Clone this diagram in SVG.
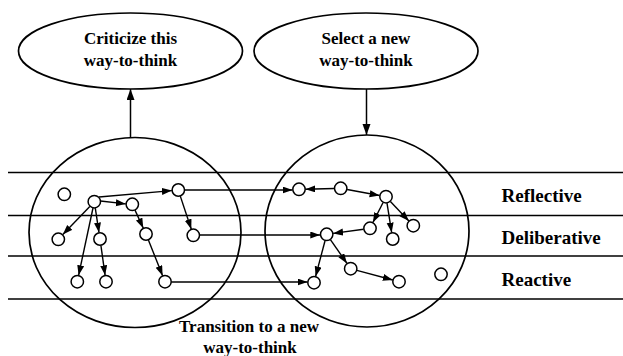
<svg xmlns="http://www.w3.org/2000/svg" width="623" height="356" viewBox="0 0 623 356">
  <style>
    .lane { stroke: #000; stroke-width: 1.6; fill: none; }
    .shape { stroke: #000; stroke-width: 1.7; fill: none; }
    .node { stroke: #000; stroke-width: 1.5; fill: #fff; }
    .edge { stroke: #000; stroke-width: 1.4; fill: none; marker-end: url(#arrow); }
    .link { stroke: #000; stroke-width: 1.5; fill: none; marker-end: url(#arrowBig); }
    text { font-weight: bold; fill: #000; }
    .t17 { font-size: 17px; text-anchor: middle; }
    .t19 { font-size: 19px; }
  </style>
  <defs>
    <marker id="arrow" markerUnits="userSpaceOnUse" markerWidth="10" markerHeight="8" refX="10" refY="3.5" orient="auto">
      <path d="M0,0 L10,3.5 L0,7 z" fill="#000"/>
    </marker>
    <marker id="arrowBig" markerUnits="userSpaceOnUse" markerWidth="11" markerHeight="9" refX="11" refY="4" orient="auto">
      <path d="M0,0 L11,4 L0,8 z" fill="#000"/>
    </marker>
  </defs>

  <rect width="623" height="356" fill="#fff"/>

  <!-- layer boundaries -->
  <g id="layers">
    <line class="lane" x1="8" y1="172.5" x2="623" y2="172.5"/>
    <line class="lane" x1="8" y1="215.5" x2="623" y2="215.5"/>
    <line class="lane" x1="8" y1="256" x2="623" y2="256"/>
    <line class="lane" x1="8" y1="299" x2="623" y2="299"/>
  </g>

  <!-- layer names -->
  <g id="layer-labels" class="t19" font-family="'Liberation Serif', 'DejaVu Serif', serif">
    <text x="501.5" y="202">Reflective</text>
    <text x="501.5" y="243.5">Deliberative</text>
    <text x="501.5" y="286">Reactive</text>
  </g>

  <!-- current and next way-to-think -->
  <g id="current-way">
    <ellipse class="shape" cx="135" cy="232.5" rx="106" ry="95"/>
  </g>
  <g id="next-way">
    <ellipse class="shape" cx="367" cy="231" rx="102" ry="96"/>
  </g>

  <!-- control ellipses -->
  <g id="criticize" font-family="'Liberation Serif', 'DejaVu Serif', serif">
    <ellipse class="shape" cx="130.5" cy="51" rx="112" ry="38"/>
    <text class="t17" x="130.5" y="44">Criticize this</text>
    <text class="t17" x="130.5" y="66">way-to-think</text>
  </g>
  <g id="select" font-family="'Liberation Serif', 'DejaVu Serif', serif">
    <ellipse class="shape" cx="366" cy="51" rx="112" ry="38"/>
    <text class="t17" x="366" y="44">Select a new</text>
    <text class="t17" x="366" y="66">way-to-think</text>
  </g>

  <g id="transition-label" font-family="'Liberation Serif', 'DejaVu Serif', serif">
    <text class="t17" x="249" y="331.5">Transition to a new</text>
    <text class="t17" x="250" y="353">way-to-think</text>
  </g>

  <!-- connectors -->
  <g id="connectors">
    <line class="link" x1="130.5" y1="138" x2="130.5" y2="89"/>
    <line class="link" x1="366.5" y1="89" x2="366.5" y2="135"/>

    <!-- left cluster -->
    <line class="edge" x1="99" y1="197" x2="171.9" y2="190.6"/>
    <line class="edge" x1="100.5" y1="201" x2="125.8" y2="203.9"/>
    <line class="edge" x1="89.8" y1="206.4" x2="62.8" y2="234.6"/>
    <line class="edge" x1="95.3" y1="208.1" x2="99" y2="232.6"/>
    <line class="edge" x1="93" y1="208" x2="78.6" y2="275.3"/>
    <line class="edge" x1="100.9" y1="245.4" x2="105.1" y2="275.3"/>
    <line class="edge" x1="135" y1="210.1" x2="143.3" y2="228.2"/>
    <line class="edge" x1="148.4" y1="240" x2="162.6" y2="275.7"/>
    <line class="edge" x1="180.3" y1="196.1" x2="191.3" y2="229.2"/>

    <!-- cross-over links -->
    <line class="edge" x1="184.5" y1="190" x2="292.6" y2="190"/>
    <line class="edge" x1="199.5" y1="235" x2="320.3" y2="235"/>
    <line class="edge" x1="171.2" y1="282" x2="307.6" y2="282"/>

    <!-- right cluster -->
    <line class="edge" x1="334.3" y1="188.5" x2="305.4" y2="189.2"/>
    <line class="edge" x1="347.1" y1="189.5" x2="379.6" y2="195.5"/>
    <line class="edge" x1="383.1" y1="202.5" x2="372.9" y2="222.5"/>
    <line class="edge" x1="387" y1="203.1" x2="391.7" y2="232.6"/>
    <line class="edge" x1="390.4" y1="201.4" x2="408.9" y2="221"/>
    <line class="edge" x1="363.6" y1="229.2" x2="333.1" y2="233.4"/>
    <line class="edge" x1="325.1" y1="240.5" x2="315.6" y2="276.4"/>
    <line class="edge" x1="330.4" y1="239.6" x2="347" y2="263.4"/>
    <line class="edge" x1="356.9" y1="270.4" x2="392.8" y2="280"/>
  </g>

  <!-- nodes of the current way-to-think -->
  <g id="n-left-iso"><circle class="node" cx="64.3" cy="194.3" r="6.2"/></g>
  <g id="n-left-hub"><circle class="node" cx="94.3" cy="201.7" r="6.2"/></g>
  <g id="n-left-r2"><circle class="node" cx="132.3" cy="204.3" r="6.2"/></g>
  <g id="n-left-r3"><circle class="node" cx="178.3" cy="190" r="6.2"/></g>
  <g id="n-left-d1"><circle class="node" cx="58.3" cy="239.3" r="6.2"/></g>
  <g id="n-left-d2"><circle class="node" cx="100" cy="239" r="6.2"/></g>
  <g id="n-left-d3"><circle class="node" cx="146" cy="234" r="6.2"/></g>
  <g id="n-left-d4"><circle class="node" cx="193.3" cy="235.3" r="6.2"/></g>
  <g id="n-left-a1"><circle class="node" cx="77.3" cy="281.7" r="6.2"/></g>
  <g id="n-left-a2"><circle class="node" cx="106" cy="281.7" r="6.2"/></g>
  <g id="n-left-a3"><circle class="node" cx="165" cy="281.7" r="6.2"/></g>

  <!-- nodes of the next way-to-think -->
  <g id="n-right-r1"><circle class="node" cx="299" cy="189.3" r="6.2"/></g>
  <g id="n-right-r2"><circle class="node" cx="340.7" cy="188.3" r="6.2"/></g>
  <g id="n-right-r3"><circle class="node" cx="386" cy="196.7" r="6.2"/></g>
  <g id="n-right-d1"><circle class="node" cx="326.7" cy="234.3" r="6.2"/></g>
  <g id="n-right-d2"><circle class="node" cx="370" cy="228.3" r="6.2"/></g>
  <g id="n-right-d3"><circle class="node" cx="392.7" cy="239" r="6.2"/></g>
  <g id="n-right-d4"><circle class="node" cx="413.3" cy="225.7" r="6.2"/></g>
  <g id="n-right-a1"><circle class="node" cx="350.7" cy="268.7" r="6.2"/></g>
  <g id="n-right-a2"><circle class="node" cx="314" cy="282.7" r="6.2"/></g>
  <g id="n-right-a3"><circle class="node" cx="399" cy="281.7" r="6.2"/></g>
  <g id="n-right-iso"><circle class="node" cx="441" cy="274.3" r="6.2"/></g>
</svg>
